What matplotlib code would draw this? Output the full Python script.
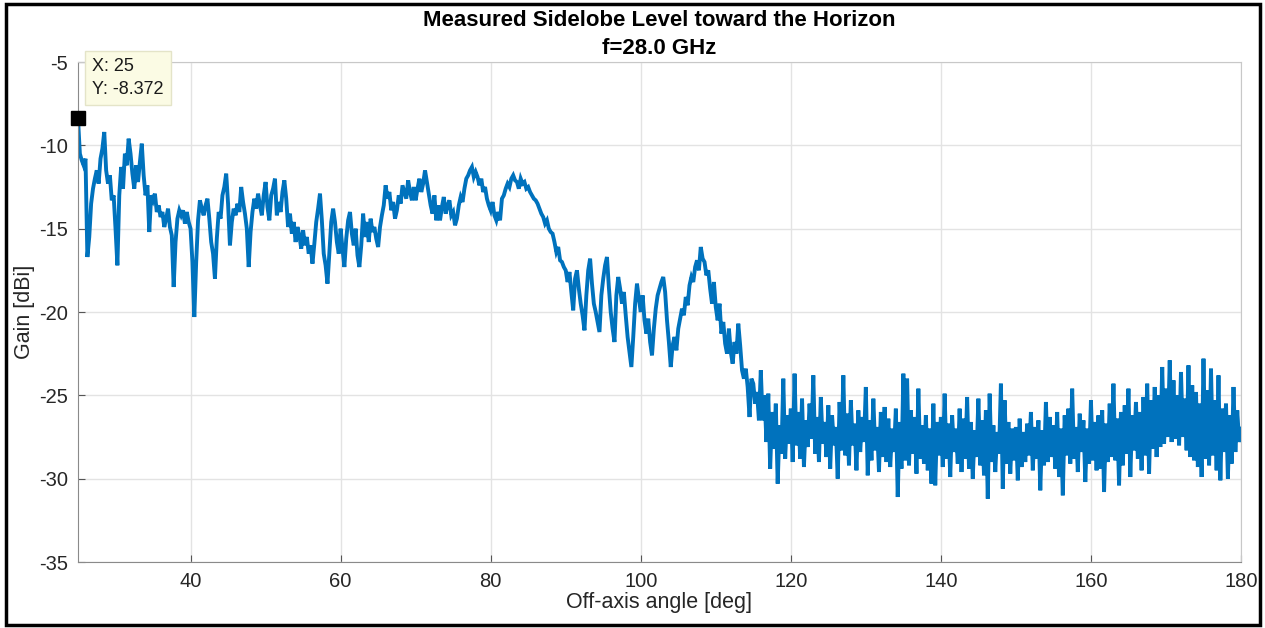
import numpy as np
import matplotlib
matplotlib.use("Agg")
import matplotlib.pyplot as plt

plt.rcParams['font.family'] = ['Liberation Sans', 'DejaVu Sans']
plt.rcParams['axes.unicode_minus'] = False

# Gain [dBi], 4 samples per degree from 25 to 180 deg
gain_25_55 = [
    -8.4, -10.5, -10.9, -11.2,
    -10.8, -16.7, -15.5, -13.5,
    -12.6, -12.0, -11.5, -12.3,
    -10.8, -10.2, -9.2, -11.5,
    -12.3, -11.8, -13.3, -13.0,
    -15.0, -17.2, -13.0, -11.3,
    -12.6, -10.5, -11.2, -9.6,
    -10.5, -11.7, -12.6, -11.2,
    -12.2, -11.0, -9.9, -11.8,
    -13.0, -12.4, -15.2, -13.0,
    -13.3, -12.9, -14.0, -13.6,
    -14.3, -14.0, -14.9, -14.4,
    -13.8, -14.9, -15.4, -18.5,
    -15.8, -14.4, -13.9, -14.2,
    -13.9, -14.7, -14.0, -14.6,
    -15.0, -17.0, -20.3, -17.0,
    -14.5, -13.3, -13.8, -14.2,
    -13.6, -13.2, -14.4, -15.8,
    -16.5, -18.0, -15.6, -14.0,
    -14.4, -13.0, -12.5, -11.7,
    -13.5, -16.0, -14.6, -13.8,
    -14.2, -13.5, -14.0, -12.5,
    -13.4, -14.1, -15.0, -17.3,
    -15.2, -14.0, -13.2, -13.8,
    -12.9, -13.6, -14.2, -13.0,
    -12.2, -13.7, -14.5, -13.0,
    -12.6, -12.0, -14.2, -13.4,
    -14.0, -12.8, -12.1, -13.2,
    -14.9, -14.1, -15.3, -14.6,
    -15.8, -14.9, -15.4, -16.2,
]
gain_55_85 = [
    -15.1, -16.0, -15.5, -16.5,
    -16.0, -17.1, -15.9, -14.6,
    -13.8, -12.9, -14.5, -16.5,
    -17.2, -18.3, -16.5, -14.6,
    -13.8, -14.6, -15.8, -16.5,
    -15.0, -16.2, -17.3, -15.6,
    -14.5, -14.0, -15.3, -16.0,
    -15.0, -16.6, -17.3, -16.0,
    -14.1, -15.5, -14.6, -15.8,
    -14.4, -15.2, -14.9, -15.6,
    -16.1, -14.9, -14.2, -13.6,
    -12.4, -13.2, -12.8, -13.9,
    -13.4, -14.4, -13.9, -13.0,
    -13.5, -12.4, -12.8, -13.2,
    -12.1, -12.8, -13.3, -12.5,
    -13.3, -12.6, -12.0, -12.8,
    -12.3, -11.5, -12.2, -12.9,
    -13.6, -14.1, -13.0, -14.5,
    -13.6, -14.5, -13.7, -13.1,
    -14.1, -13.6, -13.3, -14.2,
    -14.0, -14.8, -14.4, -13.6,
    -13.1, -13.4, -12.6, -12.0,
    -11.8, -11.5, -11.3, -11.9,
    -11.6, -11.9, -12.4, -12.0,
    -12.8, -12.5, -13.2, -13.6,
    -13.9, -13.4, -14.2, -14.5,
    -14.0, -14.5, -13.2, -13.0,
    -12.6, -12.3, -12.5, -12.0,
    -11.8, -12.1, -12.2, -12.6,
    -12.0, -12.3, -12.2, -12.6,
]
gain_85_117 = [
    -12.5, -12.8, -13.0, -13.2,
    -13.3, -13.5, -13.8, -14.1,
    -14.3, -14.7, -14.5, -15.0,
    -15.2, -15.3, -15.8, -16.4,
    -16.1, -16.9, -17.0, -17.3,
    -17.5, -18.2, -17.6, -18.8,
    -19.9, -18.0, -17.5, -18.6,
    -19.5, -20.2, -21.1, -19.0,
    -17.5, -16.8, -18.3, -19.5,
    -20.0, -20.6, -21.2, -19.0,
    -18.0, -17.2, -16.7, -18.5,
    -20.0, -21.0, -21.8, -19.0,
    -17.9, -18.6, -19.5, -18.8,
    -20.2, -21.5, -22.4, -23.3,
    -21.5, -19.5, -18.3, -19.2,
    -20.0, -19.0, -20.5, -21.3,
    -20.4, -21.8, -22.6, -21.0,
    -19.8, -19.0, -18.6, -18.2,
    -17.9, -18.8, -20.5, -21.8,
    -23.3, -22.0, -21.5, -22.3,
    -21.0, -20.4, -19.8, -20.2,
    -19.1, -19.6, -18.4, -17.9,
    -18.2, -17.3, -16.9, -17.5,
    -16.1, -16.8, -17.0, -17.8,
    -17.5, -18.6, -19.5, -18.2,
    -19.7, -20.5, -19.5, -21.3,
    -20.6, -21.9, -22.5, -21.0,
    -22.4, -23.1, -21.8, -22.5,
    -20.7, -22.0, -23.5, -24.0,
    -23.4, -24.5, -26.3, -24.0,
    -24.3, -25.5, -24.8, -26.5,
    -23.5, -26.5, -25.0, -27.8,
]
gain_117_150 = [
    -24.9, -29.4, -26.0, -28.2,
    -25.5, -30.3, -26.8, -28.5,
    -24.0, -28.8, -26.2, -27.9,
    -25.8, -29.0, -23.7, -28.0,
    -26.0, -28.8, -25.2, -29.3,
    -26.5, -28.1, -25.5, -27.6,
    -23.8, -28.5, -26.3, -29.0,
    -25.1, -27.9, -26.6, -28.7,
    -25.6, -29.4, -26.2, -28.0,
    -26.9, -30.0, -25.4, -28.3,
    -23.8, -28.6, -26.1, -29.2,
    -25.3, -28.0, -26.7, -29.5,
    -25.9, -28.4, -26.3, -27.8,
    -24.5, -29.8, -26.5, -28.9,
    -25.2, -28.3, -26.9, -29.6,
    -26.0, -28.7, -25.7, -29.0,
    -26.4, -29.3, -27.0, -28.4,
    -25.8, -31.1, -26.6, -29.4,
    -23.7, -28.9, -24.0, -29.2,
    -25.9, -28.5, -26.3, -29.7,
    -24.6, -28.8, -26.8, -29.1,
    -26.2, -29.5, -27.0, -30.3,
    -25.5, -30.4, -26.6, -28.6,
    -26.3, -29.3, -24.9, -28.8,
    -26.7, -29.9, -26.2, -28.4,
    -27.0, -29.1, -25.8, -29.6,
    -26.4, -28.8, -25.1, -29.4,
    -26.6, -30.0, -27.1, -28.7,
    -25.2, -29.2, -26.5, -29.8,
    -25.9, -31.2, -24.9, -29.0,
    -26.8, -29.6, -27.2, -28.5,
    -24.3, -30.6, -25.3, -29.1,
    -26.6, -29.7, -27.0, -28.9,
]
gain_150_180 = [
    -26.9, -30.1, -26.4, -29.3,
    -27.2, -29.0, -26.7, -28.6,
    -26.0, -29.5, -26.9, -28.8,
    -26.5, -30.7, -27.1, -29.2,
    -25.4, -29.0, -26.3, -28.7,
    -26.8, -29.4, -26.0, -29.9,
    -27.0, -31.0, -26.2, -28.6,
    -25.8, -29.1, -24.6, -28.8,
    -26.9, -29.6, -26.1, -28.4,
    -26.5, -30.2, -27.0, -29.1,
    -25.3, -28.9, -26.6, -29.5,
    -26.2, -29.4, -25.9, -30.8,
    -26.7, -29.0, -25.5, -28.7,
    -24.3, -28.9, -26.4, -30.4,
    -26.0, -29.2, -25.6, -28.5,
    -24.6, -29.9, -26.2, -28.3,
    -25.4, -28.8, -26.0, -29.5,
    -25.1, -28.6, -24.3, -29.7,
    -25.3, -28.2, -24.5, -28.7,
    -25.0, -28.1, -23.3, -27.9,
    -24.6, -27.5, -22.9, -27.8,
    -24.1, -27.6, -25.0, -28.0,
    -23.6, -27.5, -25.2, -28.3,
    -23.2, -28.7, -24.4, -28.9,
    -24.8, -29.3, -25.5, -29.9,
    -22.8, -28.8, -24.7, -29.2,
    -23.4, -28.6, -25.3, -29.5,
    -23.8, -30.1, -25.8, -28.4,
    -25.5, -30.0, -26.2, -29.1,
    -24.5, -28.4, -25.9, -27.8,
    -27.0,
]
gain = np.array(gain_25_55 + gain_55_85 + gain_85_117 + gain_117_150 + gain_150_180)
angle = np.linspace(25, 180, len(gain))

x_ticks = [40, 60, 80, 100, 120, 140, 160, 180]
y_ticks = [-35, -30, -25, -20, -15, -10, -5]
tip_x, tip_y = 25, -8.372

fig = plt.figure(figsize=(12.65, 6.28), dpi=100)
ax = fig.add_axes([78/1265, 1 - 562/628, (1241 - 78)/1265, (562 - 62)/628])

ax.plot(angle, gain, color='#0072BD', lw=2.8, solid_joinstyle='miter')
ax.set_xlim(25, 180)
ax.set_ylim(-35, -5)
ax.set_xticks(x_ticks)
ax.set_yticks(y_ticks)
ax.grid(True, color='#e3e3e3', lw=1.0)
ax.set_axisbelow(True)
ax.tick_params(direction='in', length=5, width=0.8, color='#555555',
               labelsize=14.5, labelcolor='#262626', pad=7)
for side in ['left', 'bottom']:
    ax.spines[side].set_color('#8a8a8a')
for side in ['top', 'right']:
    ax.spines[side].set_color('#c8c8c8')

ax.set_xlabel('Off-axis angle [deg]', fontsize=15.5, color='#262626', labelpad=1)
ax.set_ylabel('Gain [dBi]', fontsize=15.5, color='#262626', labelpad=3)
ax.set_title('Measured Sidelobe Level toward the Horizon\nf=28.0 GHz',
             fontsize=16, fontweight='bold', color='#000000', pad=6, linespacing=1.42)

# data tip
ax.plot([tip_x], [tip_y], marker='s', color='black', markersize=9.5, clip_on=False, zorder=5)
ax.annotate('X: 25\nY: -8.372', xy=(tip_x, tip_y), xytext=(14, 20),
            textcoords='offset pixels', ha='left', va='bottom', fontsize=13,
            color='#1a1a1a', linespacing=1.45, annotation_clip=False, zorder=6,
            bbox=dict(boxstyle='square,pad=0.4', fc='#fbfbe4', ec='#e4e4c8', lw=1))

# outer frame of the screenshot
fig.add_artist(plt.Rectangle((6/1265, 3/628), (1260 - 6)/1265, (624 - 3)/628,
                             transform=fig.transFigure, fill=False, ec='black', lw=2.5))

fig.savefig('out.png', dpi=100)
